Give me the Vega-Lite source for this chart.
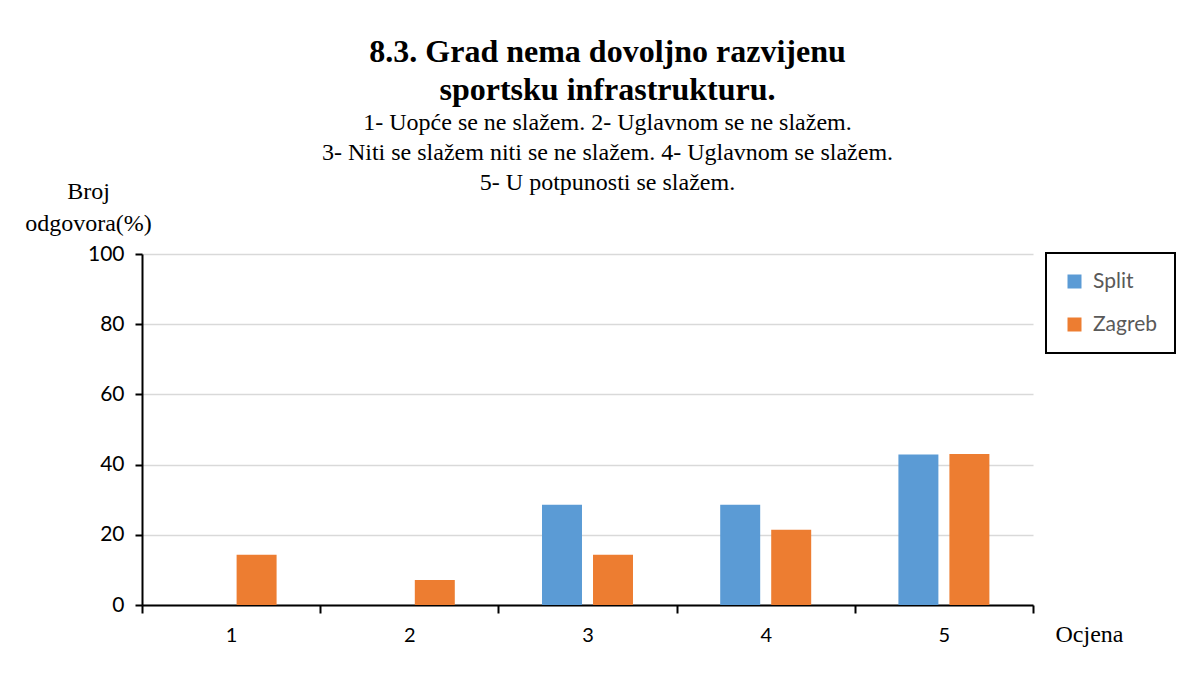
{
  "$schema": "https://vega.github.io/schema/vega-lite/v6.json",
  "width": 891,
  "height": 351,
  "autosize": {"type": "none"},
  "padding": {"left": 142, "top": 254, "right": 165, "bottom": 76},
  "background": "white",
  "title": {
    "text": ["8.3. Grad nema dovoljno razvijenu", "sportsku infrastrukturu."],
    "subtitle": ["1- Uopće se ne slažem. 2- Uglavnom se ne slažem.", "3- Niti se slažem niti se ne slažem. 4- Uglavnom se slažem.", "5- U potpunosti se slažem."],
    "font": "Liberation Serif",
    "fontSize": 32,
    "fontWeight": "bold",
    "lineHeight": 38,
    "color": "black",
    "subtitleFont": "Liberation Serif",
    "subtitleFontSize": 24,
    "subtitleLineHeight": 30,
    "subtitleColor": "black",
    "subtitlePadding": 4,
    "anchor": "middle",
    "frame": "group",
    "dx": 20,
    "offset": -17
  },
  "data": {
    "values": [
      {"ocjena": "1", "grad": "Split", "postotak": 0},
      {"ocjena": "1", "grad": "Zagreb", "postotak": 14.29},
      {"ocjena": "2", "grad": "Split", "postotak": 0},
      {"ocjena": "2", "grad": "Zagreb", "postotak": 7.14},
      {"ocjena": "3", "grad": "Split", "postotak": 28.57},
      {"ocjena": "3", "grad": "Zagreb", "postotak": 14.29},
      {"ocjena": "4", "grad": "Split", "postotak": 28.57},
      {"ocjena": "4", "grad": "Zagreb", "postotak": 21.43},
      {"ocjena": "5", "grad": "Split", "postotak": 42.86},
      {"ocjena": "5", "grad": "Zagreb", "postotak": 43.0}
    ]
  },
  "mark": {"type": "bar"},
  "encoding": {
    "x": {
      "field": "ocjena",
      "type": "nominal",
      "scale": {"paddingInner": 0, "paddingOuter": 0},
      "axis": {
        "labelAngle": 0,
        "tickBand": "extent",
        "domainColor": "black",
        "domainWidth": 2,
        "tickColor": "black",
        "tickWidth": 2,
        "tickSize": 8,
        "labelFont": "Lato",
        "labelFontSize": 20,
        "labelColor": "black",
        "labelPadding": 12,
        "grid": false,
        "title": "Ocjena",
        "titleFont": "Liberation Serif",
        "titleFontSize": 24,
        "titleFontWeight": "normal",
        "titleColor": "black",
        "titleAlign": "left",
        "titleBaseline": "alphabetic",
        "titleX": 913,
        "titleY": 36
      }
    },
    "xOffset": {
      "field": "grad",
      "type": "nominal",
      "scale": {"paddingInner": 0.216, "paddingOuter": 0.855}
    },
    "y": {
      "field": "postotak",
      "type": "quantitative",
      "scale": {"domain": [0, 100], "nice": false},
      "axis": {
        "values": [0, 20, 40, 60, 80, 100],
        "domainColor": "black",
        "domainWidth": 2,
        "tickColor": "black",
        "tickWidth": 2,
        "tickSize": 7,
        "gridColor": "#d9d9d9",
        "gridWidth": 1.5,
        "labelFont": "Lato",
        "labelFontSize": 21,
        "labelColor": "black",
        "labelPadding": 11,
        "title": ["Broj", "odgovora(%)"],
        "titleAngle": 0,
        "titleX": -54,
        "titleY": -56,
        "titleAlign": "center",
        "titleBaseline": "alphabetic",
        "titleLineHeight": 32,
        "titleFont": "Liberation Serif",
        "titleFontSize": 24,
        "titleFontWeight": "normal",
        "titleColor": "black"
      }
    },
    "color": {
      "field": "grad",
      "type": "nominal",
      "scale": {"domain": ["Split", "Zagreb"], "range": ["#5b9bd5", "#ed7d31"]},
      "legend": {
        "title": null,
        "orient": "none",
        "legendX": 904,
        "legendY": -1,
        "padding": 18,
        "strokeColor": "black",
        "fillColor": "white",
        "symbolType": "square",
        "symbolSize": 196,
        "symbolStrokeWidth": 0,
        "labelFont": "Lato",
        "labelFontSize": 21,
        "labelColor": "#595959",
        "labelOffset": 8,
        "rowPadding": 21,
        "encode": {"legend": {"update": {"strokeWidth": {"value": 2}}}}
      }
    }
  },
  "config": {"view": {"stroke": null}}
}
